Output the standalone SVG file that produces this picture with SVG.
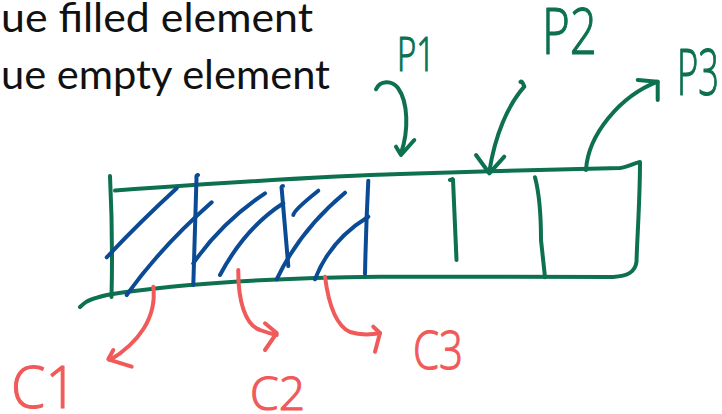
<svg xmlns="http://www.w3.org/2000/svg" width="722" height="414" viewBox="0 0 722 414">
  <style>
    .caption { font-family: Lato, "Open Sans", "Liberation Sans", sans-serif; font-size: 41px; fill: #111; }
    .ink { fill: none; stroke-width: 4; stroke-linecap: round; stroke-linejoin: round; }
    .green { stroke: #0d7050; }
    .blue { stroke: #0b4a94; }
    .red { stroke: #f05a5a; }
    .hand { font-family: "Open Sans", "DejaVu Sans", sans-serif; font-weight: 300; stroke-width: 1.2; stroke-linejoin: round; }
    .hand-green { fill: #0d7050; stroke: #0d7050; }
    .hand-red { fill: #f05a5a; stroke: #f05a5a; }
  </style>

  <!-- legend text, partly cut at the left edge -->
  <g id="legend">
    <text class="caption" x="1" y="32" textLength="312" lengthAdjust="spacingAndGlyphs">ue filled element</text>
    <text class="caption" x="1" y="89" textLength="329" lengthAdjust="spacingAndGlyphs">ue empty element</text>
  </g>

  <!-- the array outline -->
  <g id="array" class="ink green">
    <path d="M110,176 Q113,236 111.5,297"/>
    <path d="M115,190.5 C220,183 330,176 400,174 C470,172 560,169 620,168 C628,167 634,163 640,162 C640,200 637,240 636.5,262 C635,272 628,276 613,277 C520,277 450,276.5 380,276.7 C300,277.5 200,282 126,292 C110,294 95,297 86,302 Q82,305 80,307"/>
    <!-- empty slots -->
    <path d="M450,180 Q452.5,178.5 453,179.5 L456.5,260"/>
    <path d="M535,177.3 Q541,200 541,240 L545,277.3"/>
  </g>

  <!-- hatching of the filled slots -->
  <g id="filled" class="ink blue">
    <path d="M106.7,257.3 Q140,222 176.7,188.3"/>
    <path d="M126.7,295 Q160,248 211.7,202.3"/>
    <path d="M198,175 Q196,175.5 196.5,178 L193.3,285"/>
    <path d="M193.3,263.3 Q222,222 265,193.3"/>
    <path d="M220,275 Q245,228 283.3,203.3"/>
    <path d="M283,186 Q281,186 281.7,189 L288.3,266"/>
    <path d="M276.7,279.3 Q300,230 345,192.7"/>
    <path d="M293.3,215 Q294,210 318.3,190.7"/>
    <path d="M315,279.3 Q330,240 368.3,216.7"/>
    <path d="M368.3,180.7 Q366,225 365,274"/>
  </g>

  <!-- pointer and cell arrows -->
  <g id="connectors" class="ink">
    <g class="green">
      <path d="M376,89.3 C380,80 392,80 398,88 C408,102 409,130 401,153.3"/>
      <path d="M396,146.7 L401,155 L414.3,140"/>
      <path d="M520.5,82 Q522,80 524.3,86.7 C508,105 495,135 489.3,171.7"/>
      <path d="M476,155 L489.3,173.3 L504.3,156.7"/>
      <path d="M586,170 C588,135 620,96 657.7,81.7"/>
      <path d="M637.7,80 L657.7,81.7 L657.7,100"/>
    </g>
    <g class="red">
      <path d="M153.3,286.7 C157,318 138,343 110,360"/>
      <path d="M113.3,350 L108.3,359.3 L131.7,366.7"/>
      <path d="M238.3,270 C238,300 245,325 260,330 Q268,333 276.7,335"/>
      <path d="M265,323.3 L276.7,333 L265,350"/>
      <path d="M325,276.7 C328,300 335,325 350,332 Q362,336 380,333.3"/>
      <path d="M373.3,326.7 L380,333 L375,351.7"/>
    </g>
  </g>

  <!-- handwritten labels -->
  <g id="label-p1"><text class="hand hand-green" x="397" y="71" font-size="48" textLength="38" lengthAdjust="spacingAndGlyphs">P1</text></g>
  <g id="label-p2"><text class="hand hand-green" x="542" y="54" font-size="64" textLength="55" lengthAdjust="spacingAndGlyphs">P2</text></g>
  <g id="label-p3"><text class="hand hand-green" x="677" y="95" font-size="64" textLength="42" lengthAdjust="spacingAndGlyphs">P3</text></g>
  <g id="label-c1"><text class="hand hand-red" x="11" y="408" font-size="58" textLength="66" lengthAdjust="spacingAndGlyphs">C1</text></g>
  <g id="label-c2"><text class="hand hand-red" x="250" y="410" font-size="46" textLength="55" lengthAdjust="spacingAndGlyphs">C2</text></g>
  <g id="label-c3"><text class="hand hand-red" x="413" y="369" font-size="53" textLength="50" lengthAdjust="spacingAndGlyphs">C3</text></g>
</svg>
